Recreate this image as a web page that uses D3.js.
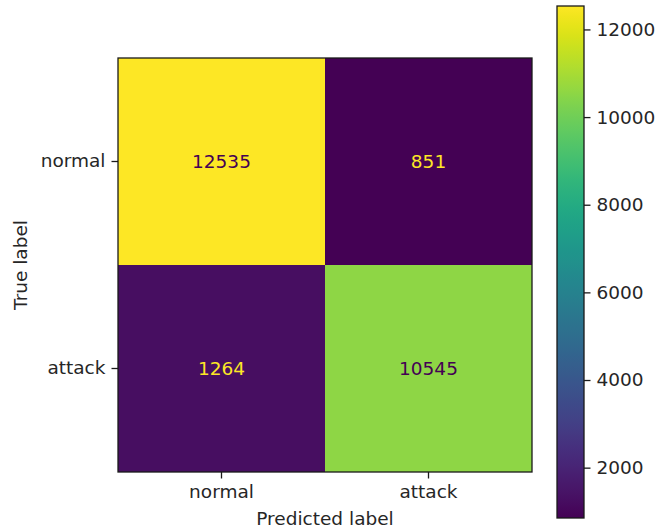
<!DOCTYPE html>
<html><head><meta charset="utf-8">
<script src="https://cdn.jsdelivr.net/npm/d3@7"></script>
<style>
html,body{margin:0;padding:0;background:#fff;}
svg{display:block;font-family:"DejaVu Sans",sans-serif;}
</style></head>
<body>
<svg id="c" width="656" height="531"></svg>
<script>
const trueLabels = ["normal", "attack"];
const predLabels = ["normal", "attack"];
const matrix = [
  [12535, 851],
  [1264, 10545]
];
const colorbarTicks = [2000, 4000, 6000, 8000, 10000, 12000];
const xTitle = "Predicted label";
const yTitle = "True label";

const svg = d3.select("#c");
const plot = {left: 118, top: 58, size: 414};
const cb = {left: 557, width: 27, top: 6, bottom: 518};
const textColor = "#262626";
const FS = 18.5;
const TL = 6.5, TP = 6;
const lineCol = "#1a1a1a", lw = 1.3;

const flat = matrix.flat();
const vmin = d3.min(flat), vmax = d3.max(flat);
const color = d3.scaleSequential(d3.interpolateViridis).domain([vmin, vmax]);

const x = d3.scaleBand().domain(predLabels).range([plot.left, plot.left + plot.size]);
const y = d3.scaleBand().domain(trueLabels).range([plot.top, plot.top + plot.size]);

const cells = [];
trueLabels.forEach((t, i) => predLabels.forEach((p, j) => cells.push({t, p, v: matrix[i][j]})));

svg.append("g").selectAll("rect").data(cells).join("rect")
  .attr("x", d => x(d.p)).attr("y", d => y(d.t))
  .attr("width", x.bandwidth()).attr("height", y.bandwidth())
  .attr("fill", d => color(d.v));

const thresh = (vmin + vmax) / 2;
svg.append("g").selectAll("text").data(cells).join("text")
  .attr("x", d => x(d.p) + x.bandwidth() / 2)
  .attr("y", d => y(d.t) + y.bandwidth() / 2)
  .attr("text-anchor", "middle").attr("dominant-baseline", "central")
  .attr("font-size", FS)
  .attr("fill", d => d.v < thresh ? d3.interpolateViridis(1) : d3.interpolateViridis(0))
  .text(d => d.v);

// frame
svg.append("rect").attr("x", plot.left).attr("y", plot.top)
  .attr("width", plot.size).attr("height", plot.size)
  .attr("fill", "none").attr("stroke", lineCol).attr("stroke-width", lw);

// axes
const gx = svg.append("g").attr("transform", `translate(0,${plot.top + plot.size})`)
  .call(d3.axisBottom(x).tickSize(TL).tickPadding(TP));
const gy = svg.append("g").attr("transform", `translate(${plot.left},0)`)
  .call(d3.axisLeft(y).tickSize(TL).tickPadding(TP));
[gx, gy].forEach(g => {
  g.select(".domain").remove();
  g.selectAll("line").attr("stroke", lineCol).attr("stroke-width", lw);
  g.selectAll("text").attr("font-size", FS).attr("fill", textColor).attr("font-family", "DejaVu Sans");
});
gy.selectAll("text").attr("dy", "0.32em");

svg.append("text").attr("x", plot.left + plot.size / 2).attr("y", 518)
  .attr("text-anchor", "middle").attr("dominant-baseline", "central")
  .attr("font-size", FS).attr("fill", textColor).text(xTitle);
svg.append("text").attr("transform", `translate(20,${plot.top + plot.size / 2}) rotate(-90)`)
  .attr("text-anchor", "middle").attr("dominant-baseline", "central")
  .attr("font-size", FS).attr("fill", textColor).text(yTitle);

// colorbar
const cbScale = d3.scaleLinear().domain([vmin, vmax]).range([cb.bottom, cb.top]);
const defs = svg.append("defs");
const grad = defs.append("linearGradient").attr("id", "vir")
  .attr("x1", 0).attr("y1", 1).attr("x2", 0).attr("y2", 0);
d3.range(0, 1.0001, 0.02).forEach(t => {
  grad.append("stop").attr("offset", t).attr("stop-color", d3.interpolateViridis(t));
});
svg.append("rect").attr("x", cb.left).attr("y", cb.top)
  .attr("width", cb.width).attr("height", cb.bottom - cb.top)
  .attr("fill", "url(#vir)").attr("stroke", lineCol).attr("stroke-width", lw);
const gc = svg.append("g").attr("transform", `translate(${cb.left + cb.width},0)`)
  .call(d3.axisRight(cbScale).tickValues(colorbarTicks).tickSize(TL).tickPadding(TP).tickFormat(d3.format("d")));
gc.select(".domain").remove();
gc.selectAll("line").attr("stroke", lineCol).attr("stroke-width", lw);
gc.selectAll("text").attr("font-size", FS).attr("fill", textColor).attr("font-family", "DejaVu Sans");
</script>
</body></html>
